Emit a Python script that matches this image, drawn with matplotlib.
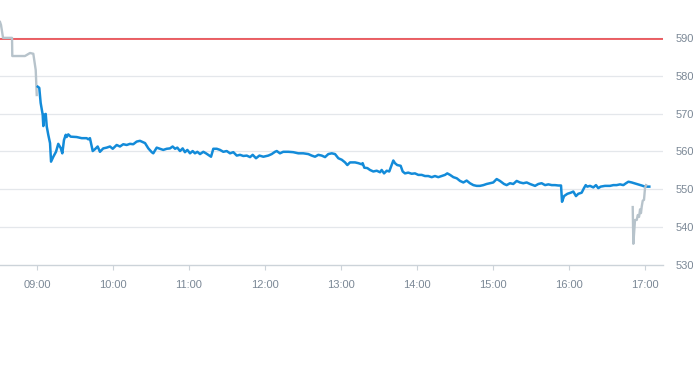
import matplotlib
matplotlib.use("Agg")
import matplotlib.pyplot as plt

# ---- data (minutes after 09:00, price) ----
pre_min = [-29.2, -28.4, -26.8, -19.7, -19.5, -9.5, -5.5, -2.9, -1.0, -0.2]
pre_val = [594.2, 593.4, 590.0, 590.0, 585.2, 585.2, 586.0, 585.8, 581.5, 574.9]

main_min = [0.6, 1.8, 2.9, 4.5, 5.0, 5.8, 6.9, 7.7, 8.9, 10.3, 11.1, 12.9, 15.0, 16.8, 18.7,
            20.0, 21.3, 22.7, 23.4, 24.7, 26.6, 31.3, 35.3, 39.2, 40.5, 41.8, 44.0, 45.8, 47.9,
            49.7, 52.3, 55.0, 57.6, 59.8, 62.9, 65.5, 68.1, 70.8, 73.4, 76.0, 78.7, 81.3, 85.3,
            87.9, 90.6, 91.8, 94.5, 97.1, 99.7, 102.4, 105.0, 107.1, 109.0, 110.8, 112.9, 115.0,
            116.8, 118.7, 120.8, 122.9, 124.7, 126.6, 128.7, 131.3, 133.4, 135.2, 137.4, 139.2,
            141.9, 144.5, 147.1, 149.8, 152.4, 155.0, 157.7, 160.3, 162.9, 165.6, 168.2, 170.3,
            172.9, 175.6, 178.7, 182.6, 185.3, 187.9, 189.3, 191.8, 194.4, 198.4, 202.3, 206.3,
            210.2, 214.2, 216.9, 219.5, 222.1, 224.8, 227.4, 230.0, 232.7, 235.3, 237.9, 240.6,
            243.2, 245.0, 247.1, 251.1, 253.7, 256.4, 257.1, 258.4, 260.8, 262.9, 265.5, 268.2,
            270.8, 272.1, 274.0, 276.1, 278.1, 280.0, 281.3, 282.6, 284.4, 287.1, 288.7, 290.5,
            293.1, 295.8, 298.4, 301.0, 303.7, 306.3, 308.9, 311.6, 314.2, 316.8, 319.5, 322.1,
            323.9, 326.1, 328.7, 331.4, 334.0, 336.6, 339.2, 341.8, 344.5, 347.1, 349.7, 352.4,
            355.0, 357.6, 360.2, 362.9, 365.5, 368.7, 370.8, 373.4, 376.0, 378.7, 381.3, 383.9,
            386.6, 389.2, 393.2, 395.8, 398.4, 401.1, 403.7, 406.4, 409.0, 411.6, 413.7, 414.5,
            416.1, 418.7, 421.4, 423.4, 425.5, 427.3, 430.0, 431.8, 433.2, 434.4, 436.6, 439.2,
            441.3, 443.1, 445.0, 448.4, 452.4, 455.0, 457.6, 460.3, 462.9, 465.0, 466.9, 469.5,
            473.5, 477.4, 480.0, 483.4]
main_val = [577.1, 576.8, 572.8, 569.7, 566.7, 569.7, 569.9, 566.6, 564.4, 562.2, 557.3, 558.6,
            559.9, 562.0, 560.9, 559.5, 563.0, 564.4, 563.8, 564.5, 563.9, 563.8, 563.5, 563.5,
            563.2, 563.5, 560.1, 560.6, 561.3, 559.9, 560.8, 561.0, 561.3, 560.7, 561.7, 561.3,
            561.9, 561.7, 562.0, 561.9, 562.6, 562.8, 562.2, 560.8, 559.8, 559.5, 561.0, 560.7,
            560.4, 560.7, 560.8, 561.3, 560.7, 561.0, 560.1, 560.8, 559.8, 560.4, 559.5, 560.1,
            559.5, 559.9, 559.3, 559.9, 559.5, 559.1, 558.6, 560.7, 560.7, 560.4, 559.9, 560.1,
            559.5, 559.8, 558.9, 559.1, 558.8, 558.9, 558.5, 559.1, 558.2, 558.9, 558.6, 558.9,
            559.3, 559.9, 560.1, 559.5, 559.9, 559.9, 559.8, 559.5, 559.5, 559.3, 558.9, 558.6,
            559.1, 558.9, 558.5, 559.3, 559.5, 559.3, 558.2, 557.8, 557.1, 556.4, 557.1, 557.1,
            556.9, 556.6, 556.9, 555.7, 555.6, 555.1, 554.7, 554.9, 554.5, 555.1, 554.2, 554.9,
            554.7, 556.4, 557.6, 556.9, 556.4, 556.2, 554.7, 554.2, 554.4, 554.1, 554.2, 553.8,
            553.8, 553.5, 553.5, 553.2, 553.5, 553.2, 553.5, 553.8, 554.2, 553.8, 553.2, 552.9,
            552.2, 551.8, 552.3, 551.6, 551.1, 550.9, 550.9, 551.1, 551.4, 551.6, 551.8, 552.7,
            552.2, 551.4, 551.1, 551.6, 551.4, 552.2, 551.8, 551.6, 551.8, 551.4, 550.9, 551.4,
            551.6, 551.1, 551.3, 551.1, 551.1, 551.0, 551.0, 546.7, 548.2, 548.8, 549.1, 549.4,
            548.2, 548.8, 549.1, 550.3, 551.1, 550.7, 550.9, 550.5, 551.1, 550.3, 550.7, 550.9,
            550.9, 551.1, 551.1, 551.3, 551.1, 551.6, 552.0, 551.8, 551.4, 551.0, 550.7, 550.7]

post_min = [470.3, 470.8, 472.1, 473.5, 474.3, 475.3, 476.1, 476.8, 477.4, 478.2, 479.2, 480.0, 480.8]
post_val = [545.3, 535.6, 541.9, 541.9, 543.2, 542.7, 544.7, 543.7, 545.4, 547.0, 547.2, 550.3, 551.1]

prev_close = 589.7

tick_min = [0, 60, 120, 180, 240, 300, 360, 420, 480]
tick_labels = ["09:00", "10:00", "11:00", "12:00", "13:00", "14:00", "15:00", "16:00", "17:00"]
y_ticks = [530, 540, 550, 560, 570, 580, 590]

# ---- plot ----
plt.rcParams['font.family'] = ['Liberation Sans', 'DejaVu Sans']
fig = plt.figure(figsize=(6.93, 3.65), dpi=100)
ax = fig.add_axes([0.0, 0.274, 0.9567, 0.726])

label_col = '#7b8896'
grid_col = '#e4e7eb'

for yv in y_ticks[1:]:
    ax.axhline(yv, color=grid_col, lw=0.9, zorder=1)
ax.axhline(prev_close, color='#e8363c', lw=1.1, zorder=2)

ax.plot(pre_min, pre_val, color='#b7c3cb', lw=1.7, zorder=3, solid_joinstyle='round')
ax.plot(main_min, main_val, color='#138bd9', lw=1.8, zorder=4, solid_joinstyle='round')
ax.plot(post_min, post_val, color='#b7c3cb', lw=1.7, zorder=5, solid_joinstyle='round')

ax.set_xlim(-29.2, 494.2)
ax.set_ylim(530, 600)

ax.set_xticks(tick_min)
ax.set_xticklabels(tick_labels)
ax.set_yticks(y_ticks)
ax.set_yticklabels([str(v) for v in y_ticks])

ax.yaxis.tick_right()
ax.tick_params(axis='y', length=0, pad=9, labelsize=8, labelcolor=label_col)
ax.tick_params(axis='x', length=3.5, width=0.8, color='#ccd3d9', pad=7,
               labelsize=8, labelcolor=label_col)

for s in ['left', 'top', 'right']:
    ax.spines[s].set_visible(False)
ax.spines['bottom'].set_color('#ccd3d9')
ax.spines['bottom'].set_linewidth(1.0)

fig.savefig('out.png', dpi=100)
